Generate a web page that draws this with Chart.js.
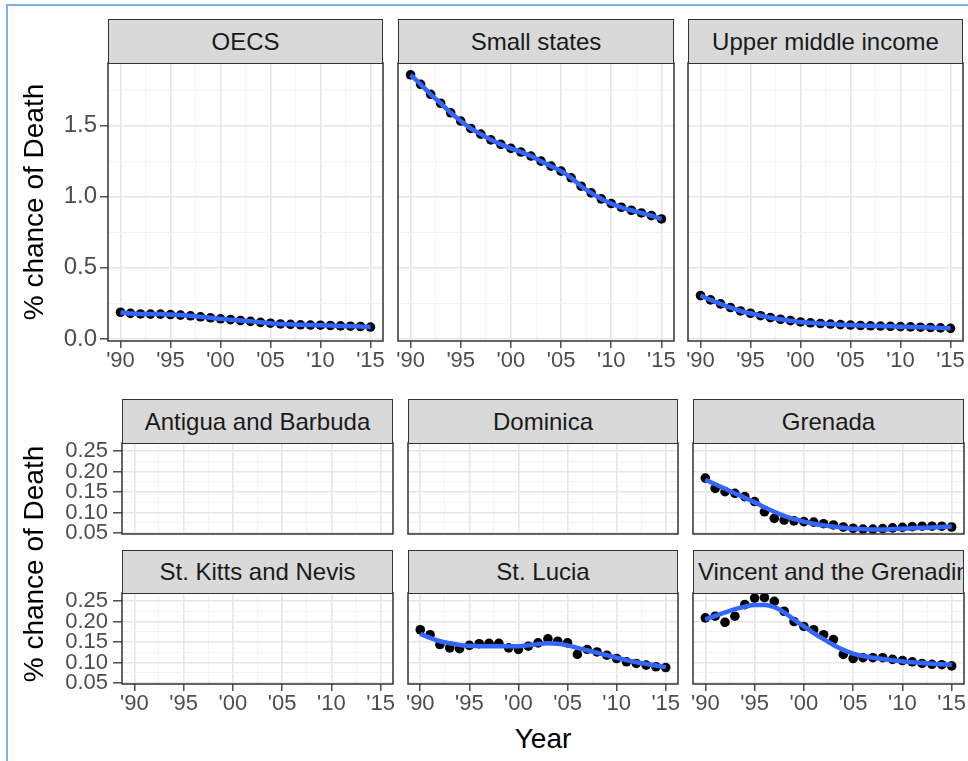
<!DOCTYPE html>
<html>
<head>
<meta charset="utf-8">
<script src="https://cdn.jsdelivr.net/npm/chart.js@4.4.1/dist/chart.umd.min.js"></script>
<style>
  body { margin: 0; background: #fff; width: 968px; height: 761px; position: relative; overflow: hidden;
         font-family: "Liberation Sans", Arial, sans-serif; }
  .frame { position: absolute; left: 6px; top: 4px; width: 990px; height: 800px;
           border-left: 2px solid #7eb1e4; border-top: 2px solid #7eb1e4; }
  canvas { position: absolute; }
  .strip { position: absolute; box-sizing: border-box; background: #d9d9d9; border: 1.5px solid #333;
           display: flex; align-items: center; justify-content: center; overflow: hidden;
           white-space: nowrap; font-size: 24px; color: #1a1a1a; }
  .strip span { flex: none; }
  .title { position: absolute; white-space: nowrap; font-size: 28px; color: #000; }
  .ytitle { transform: translate(-50%, -50%) rotate(-90deg); }
</style>
</head>
<body>
<div class="frame"></div>
<script>
// ---- 데이터 ----
const YEARS = [1990, 1991, 1992, 1993, 1994, 1995, 1996, 1997, 1998, 1999, 2000, 2001, 2002,
               2003, 2004, 2005, 2006, 2007, 2008, 2009, 2010, 2011, 2012, 2013, 2014, 2015];

const X_TICKS = [1990, 1995, 2000, 2005, 2010, 2015];
const X_LABELS = ["'90", "'95", "'00", "'05", "'10", "'15"];
const X_MINOR = [1992.5, 1997.5, 2002.5, 2007.5, 2012.5];

const Y_TICKS_TOP = [0, 0.5, 1.0, 1.5];
const Y_LABELS_TOP = ['0.0', '0.5', '1.0', '1.5'];
const Y_MINOR_TOP = [0.25, 0.75, 1.25, 1.75];

const Y_TICKS_BOT = [0.05, 0.10, 0.15, 0.20, 0.25];
const Y_LABELS_BOT = ['0.05', '0.10', '0.15', '0.20', '0.25'];
const Y_MINOR_BOT = [0.075, 0.125, 0.175, 0.225];

const OECS = [0.188, 0.180, 0.176, 0.175, 0.175, 0.172, 0.168, 0.163, 0.156, 0.149, 0.142, 0.136, 0.130,
              0.124, 0.117, 0.111, 0.106, 0.103, 0.100, 0.098, 0.097, 0.095, 0.092, 0.090, 0.088, 0.084];
const SMALL_STATES = [1.857, 1.790, 1.720, 1.657, 1.590, 1.532, 1.480, 1.440, 1.400, 1.368, 1.340, 1.314, 1.286,
                      1.250, 1.215, 1.180, 1.133, 1.074, 1.027, 0.985, 0.952, 0.926, 0.905, 0.886, 0.867, 0.844];
const UPPER_MIDDLE = [0.305, 0.275, 0.247, 0.221, 0.197, 0.181, 0.164, 0.150, 0.139, 0.129, 0.120, 0.114, 0.109,
                      0.105, 0.101, 0.098, 0.095, 0.093, 0.091, 0.089, 0.087, 0.085, 0.083, 0.081, 0.078, 0.075];

const GRENADA = [0.184, 0.159, 0.151, 0.147, 0.139, 0.127, 0.102, 0.086, 0.082, 0.080, 0.078, 0.077, 0.073,
                 0.070, 0.065, 0.062, 0.060, 0.060, 0.061, 0.063, 0.064, 0.066, 0.067, 0.067, 0.067, 0.065];
const GRENADA_FIT = [0.180, 0.169, 0.158, 0.147, 0.136, 0.125, 0.113, 0.102, 0.092, 0.084, 0.078, 0.073, 0.069,
                     0.066, 0.063, 0.061, 0.060, 0.059, 0.059, 0.060, 0.061, 0.062, 0.063, 0.064, 0.065, 0.066];

const ST_LUCIA = [0.180, 0.168, 0.144, 0.136, 0.134, 0.142, 0.146, 0.147, 0.147, 0.136, 0.132, 0.140, 0.148,
                  0.158, 0.152, 0.148, 0.120, 0.132, 0.126, 0.118, 0.110, 0.102, 0.098, 0.094, 0.090, 0.088];
const ST_LUCIA_FIT = [0.170, 0.160, 0.152, 0.147, 0.143, 0.141, 0.140, 0.140, 0.140, 0.140, 0.140, 0.142, 0.145,
                      0.147, 0.146, 0.142, 0.136, 0.130, 0.124, 0.118, 0.112, 0.106, 0.101, 0.097, 0.093, 0.089];

const ST_VINCENT = [0.209, 0.213, 0.198, 0.213, 0.241, 0.257, 0.258, 0.249, 0.225, 0.200, 0.188, 0.180, 0.168,
                    0.156, 0.120, 0.110, 0.112, 0.112, 0.112, 0.108, 0.105, 0.102, 0.098, 0.096, 0.095, 0.092];
const ST_VINCENT_FIT = [0.205, 0.214, 0.222, 0.230, 0.236, 0.240, 0.240, 0.235, 0.222, 0.205, 0.188, 0.172, 0.157,
                        0.143, 0.131, 0.122, 0.116, 0.112, 0.109, 0.106, 0.103, 0.101, 0.099, 0.097, 0.096, 0.095];

// ---- 패널 배치 ----
const TOP = { yMin: -0.014, yMax: 1.94, ticks: Y_TICKS_TOP, labels: Y_LABELS_TOP, minor: Y_MINOR_TOP, yFont: 24, tickLen: 8, yPad: 3 };
const BOT = { yMin: 0.048, yMax: 0.2694, ticks: Y_TICKS_BOT, labels: Y_LABELS_BOT, minor: Y_MINOR_BOT, yFont: 22, tickLen: 9, yPad: 5 };

const PANELS = [
  { name: 'OECS', pts: OECS, fit: OECS, L: 108, T: 63, W: 275, H: 278, sT: 19, sH: 45, y: TOP, yAxis: true, xAxis: true },
  { name: 'Small states', pts: SMALL_STATES, fit: SMALL_STATES, L: 398, T: 63, W: 276, H: 278, sT: 19, sH: 45, y: TOP, yAxis: false, xAxis: true },
  { name: 'Upper middle income', pts: UPPER_MIDDLE, fit: UPPER_MIDDLE, L: 688, T: 63, W: 275, H: 278, sT: 19, sH: 45, y: TOP, yAxis: false, xAxis: true },
  { name: 'Antigua and Barbuda', pts: null, L: 122, T: 443, W: 271, H: 91, sT: 399, sH: 45, y: BOT, yAxis: true, xAxis: false },
  { name: 'Dominica', pts: null, L: 408, T: 443, W: 270, H: 91, sT: 399, sH: 45, y: BOT, yAxis: false, xAxis: false },
  { name: 'Grenada', pts: GRENADA, fit: GRENADA_FIT, L: 693, T: 443, W: 271, H: 91, sT: 399, sH: 45, y: BOT, yAxis: false, xAxis: false },
  { name: 'St. Kitts and Nevis', pts: null, L: 122, T: 593, W: 271, H: 91, sT: 550, sH: 44, y: BOT, yAxis: true, xAxis: true },
  { name: 'St. Lucia', pts: ST_LUCIA, fit: ST_LUCIA_FIT, L: 408, T: 593, W: 270, H: 91, sT: 550, sH: 44, y: BOT, yAxis: false, xAxis: true },
  { name: 'St. Vincent and the Grenadines', pts: ST_VINCENT, fit: ST_VINCENT_FIT, L: 693, T: 593, W: 271, H: 91, sT: 550, sH: 44, y: BOT, yAxis: false, xAxis: true }
];

Chart.defaults.font.family = '"Liberation Sans", Arial, sans-serif';
Chart.defaults.color = '#4d4d4d';

const MAJOR_GRID = '#e6e6e6';
const MINOR_GRID = '#f1f1f1';

// 패널 테두리 (ggplot panel.border)
const panelBorder = {
  id: 'panelBorder',
  afterDraw(chart) {
    const a = chart.chartArea;
    const ctx = chart.ctx;
    ctx.save();
    ctx.strokeStyle = '#333333';
    ctx.lineWidth = 1.5;
    ctx.strokeRect(a.left, a.top, a.right - a.left, a.bottom - a.top);
    ctx.restore();
  }
};

function tickList(major, labels, minor) {
  const list = major.map((v, i) => ({ value: v, text: labels[i] }))
    .concat(minor.map(v => ({ value: v, text: '' })));
  return list.sort((a, b) => a.value - b.value);
}

function gridOpts(show, tickLen) {
  return {
    color: c => (c.tick && c.tick.text ? MAJOR_GRID : MINOR_GRID),
    lineWidth: c => (c.tick && c.tick.text ? 1.6 : 0.9),
    drawTicks: show,
    tickLength: tickLen,
    tickWidth: 1.3,
    tickColor: c => (c.tick && c.tick.text ? '#333333' : 'rgba(0,0,0,0)')
  };
}

// 라벨 때문에 생기는 자동 여백 제거 -> 그림 영역 위치 고정
function fixSize(s, w, h) {
  if (w !== null) s.width = w;
  if (h !== null) s.height = h;
  s.paddingTop = 0;
  s.paddingBottom = 0;
  s.paddingLeft = 0;
  s.paddingRight = 0;
}

function makePanel(p) {
  const pad = 4;
  const padV = p.yAxis ? 14 : 4;   // y 라벨이 잘리지 않게 위아래 여유
  const yw = p.yAxis ? 70 : 0;
  const xh = p.xAxis ? 34 : 0;
  const cw = pad + yw + p.W + pad;
  const ch = padV + p.H + xh + padV;

  const canvas = document.createElement('canvas');
  canvas.width = cw;
  canvas.height = ch;
  canvas.style.left = (p.L - yw - pad) + 'px';
  canvas.style.top = (p.T - padV) + 'px';
  canvas.style.width = cw + 'px';
  canvas.style.height = ch + 'px';
  document.body.appendChild(canvas);

  const datasets = [];
  if (p.pts) {
    datasets.push({
      data: YEARS.map((yr, i) => ({ x: yr, y: p.fit[i] })),
      borderColor: '#3366FF',
      borderWidth: 4.5,
      pointRadius: 0,
      tension: 0.4,
      cubicInterpolationMode: 'monotone',
      order: 1
    });
    datasets.push({
      data: YEARS.map((yr, i) => ({ x: yr, y: p.pts[i] })),
      showLine: false,
      pointRadius: 4.8,
      pointBackgroundColor: '#000',
      pointBorderWidth: 0,
      order: 2
    });
  }

  const xTicks = tickList(X_TICKS, X_LABELS, X_MINOR);
  const yTicks = tickList(p.y.ticks, p.y.labels, p.y.minor);

  new Chart(canvas, {
    type: 'line',
    data: { datasets },
    options: {
      responsive: false,
      animation: false,
      devicePixelRatio: 1,
      layout: { padding: { left: pad, right: pad, top: padV, bottom: padV }, autoPadding: false },
      plugins: { legend: { display: false }, tooltip: { enabled: false } },
      scales: {
        x: {
          type: 'linear',
          min: 1988.75,
          max: 2016.25,
          border: { display: false },
          grid: gridOpts(p.xAxis, 7),
          afterBuildTicks: s => { s.ticks = xTicks.map(t => ({ value: t.value, text: t.text })); },
          afterFit: s => fixSize(s, null, xh),
          ticks: {
            display: p.xAxis,
            autoSkip: false,
            maxRotation: 0,
            padding: 0,
            font: { size: 22 },
            color: '#4d4d4d',
            callback: (v, i, ticks) => ticks[i].text
          }
        },
        y: {
          min: p.y.yMin,
          max: p.y.yMax,
          border: { display: false },
          grid: gridOpts(p.yAxis, p.y.tickLen),
          afterBuildTicks: s => { s.ticks = yTicks.map(t => ({ value: t.value, text: t.text })); },
          afterFit: s => fixSize(s, yw, null),
          ticks: {
            display: p.yAxis,
            autoSkip: false,
            padding: p.y.yPad,
            font: { size: p.y.yFont },
            color: '#4d4d4d',
            callback: (v, i, ticks) => ticks[i].text
          }
        }
      }
    },
    plugins: [panelBorder]
  });

  const strip = document.createElement('div');
  strip.className = 'strip';
  strip.style.left = p.L + 'px';
  strip.style.top = p.sT + 'px';
  strip.style.width = p.W + 'px';
  strip.style.height = p.sH + 'px';
  const span = document.createElement('span');
  span.textContent = p.name;
  strip.appendChild(span);
  document.body.appendChild(strip);
}

PANELS.forEach(makePanel);

// 축 제목
function addTitle(text, x, y, rotated) {
  const d = document.createElement('div');
  d.className = 'title' + (rotated ? ' ytitle' : '');
  d.textContent = text;
  d.style.left = x + 'px';
  d.style.top = y + 'px';
  if (!rotated) d.style.transform = 'translate(-50%, -50%)';
  document.body.appendChild(d);
}
addTitle('% chance of Death', 34, 202, true);
addTitle('% chance of Death', 34, 564, true);
addTitle('Year', 543, 739, false);
</script>
</body>
</html>
